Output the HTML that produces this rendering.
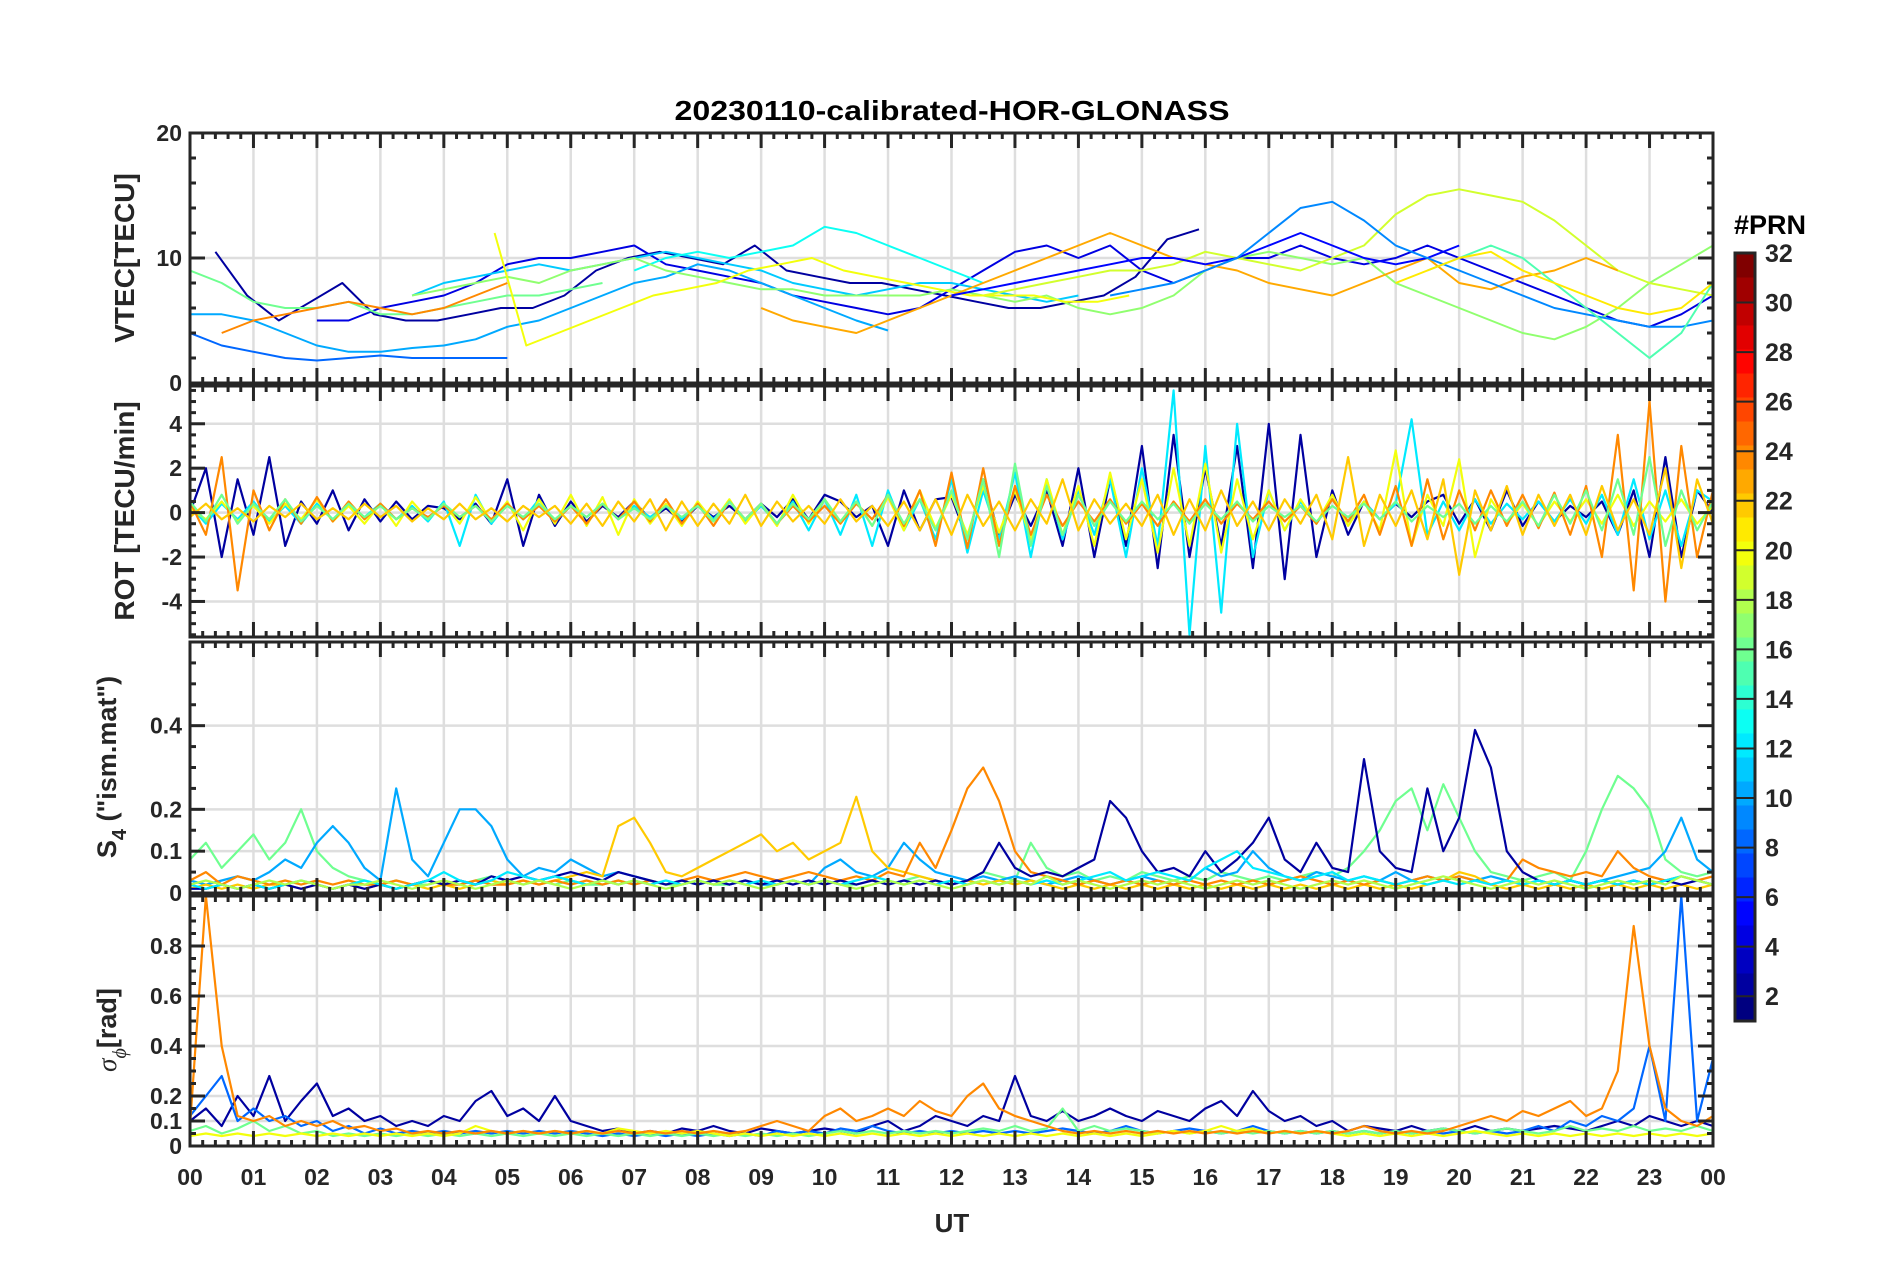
<!DOCTYPE html>
<html><head><meta charset="utf-8"><style>
html,body{margin:0;padding:0;background:#fff}
svg{display:block;font-family:"Liberation Sans",sans-serif}
</style></head><body>
<svg id="chart" width="1902" height="1272" viewBox="0 0 1902 1272" xmlns="http://www.w3.org/2000/svg"></svg>
<script>
// ---------------- data ----------------
const xTickLabels = ["00","01","02","03","04","05","06","07","08","09","10","11","12","13","14","15","16","17","18","19","20","21","22","23","00"];
const vtecTicks = [0,10,20];
const rotTicks = [-4,-2,0,2,4];
const s4Ticks = [0,0.1,0.2,0.4];
const sigTicks = [0,0.1,0.2,0.4,0.6,0.8];
const cbTicks = [2,4,6,8,10,12,14,16,18,20,22,24,26,28,30,32];

// VTEC series: PRN, start hour, step 0.5 h values
const vtecPRN   = [2, 4, 8, 10, 11, 13, 16, 17, 19, 20, 23, 24, 5, 9, 15, 21];
const vtecStart = [0.4, 2.0, 0.0, 0.0, 3.5, 7.0, 0.0, 3.5, 12.5, 4.8, 9.0, 0.5, 12.0, 14.5, 19.5, 19.0];
const vtecVals = [
 [10.5,7,5,6.5,8,5.5,5,5,5.5,6,6,7,9,10,10.5,10,9.5,11,9,8.5,8,8,7.5,7,6.5,6,6,6.5,7,8.5,11.5,12.3],
 [5,5,6,6.5,7,8,9.5,10,10,10.5,11,9.5,9,8.5,8,7,6.5,6,5.5,6,7.5,9,10.5,11,10,11,9,8,9,10,10,11,10,9.5,10,11,10,9,8,7,6,5,4.5,5.5,7,9,11,12,11,10,9.5,9,10],
 [4,3,2.5,2,1.8,2,2.2,2,2,2,2],
 [5.5,5.5,5,4,3,2.5,2.5,2.8,3,3.5,4.5,5,6,7,8,8.5,9.5,9,8,7,6,5,4.2],
 [7,8,8.5,9,9.5,9,9.5,10,10.5,10,9.5,9,8,7.5,7,7.5,8,8,7.5,7,6.5,7],
 [9,10,10.5,10,10.5,11,12.5,12,11,10,9,8],
 [9,8,6.5,6,6,6.5,5.5,5.5,6,6.5,7,7,7.5,8],
 [7,7.5,8,8.5,8,9,9.5,10,9,8.5,8,7.5,7.5,7,7,7,7,7.5,7,6.5,7,6,5.5,6,7,9,10,10.5,10,9.5,10,8,7,6,5,4,3.5,4.5,6,8,9.5,11,12,13,12.5,11,10,9],
 [7,7.5,8,8.5,9,9,9.5,10.5,10,9.5,9,10,11,13.5,15,15.5,15,14.5,13,11,9,8,7.5,7,6.5,6,6.5,7,7,6.5,5.5,5],
 [12,3,4,5,6,7,7.5,8,9,9.5,10,9,8.5,8,7.5,7,7,7,6.5,6.5,7],
 [6,5,4.5,4,5,6,7,8,9,10,11,12,11,10,9.5,9,8,7.5,7,8,9,10,8,7.5,8.5,9,10,9],
 [4,5,5.5,6,6.5,6,5.5,6,7,8],
 [7,7.5,8,8.5,9,9.5,10,10,9.5,10,11,12,11,10,9.5,10,11],
 [7,7.5,8,9,10,12,14,14.5,13,11,10,9,8,7,6,5.5,5,4.5,4.5,5,4.5],
 [9,10,11,10,8,6,4,2,4,8,10,11,10,9.5,9,10,9,8,7,6,5],
 [8,9,10,10.5,9,8,7,6,5.5,6,8,9,10,11,12,13,14,11,9,8,7,6,9]
];

// ROT series: 97 samples (every 15 min)
const rotPRN = [2, 12, 20, 24, 16, 22];
const rotVals = [
 [0,2,-2,1.5,-1,2.5,-1.5,0.5,-0.5,1,-0.8,0.6,-0.4,0.5,-0.3,0.3,0.2,-0.3,0.4,-0.5,1.5,-1.5,0.8,-0.6,0.5,-0.4,0.3,-0.2,0.5,-0.3,0.2,-0.4,0.3,-0.2,0.3,-0.3,0.4,-0.2,0.6,-0.3,0.8,0.5,-0.2,0.3,-1.5,1,-0.8,0.6,0.7,-1.2,1.5,-1,0.8,-0.6,1,-1.5,2,-2,1.5,-1.5,3,-2.5,3.5,-2,2,-1.5,3,-2.5,4,-3,3.5,-2,1,-1,0.5,-0.3,0.4,-0.2,0.5,0.8,-0.5,0.6,-0.8,1,-0.6,0.5,-0.4,0.3,-0.2,0.5,-1,1,-2,2.5,-2,1,0],
 [0.3,-0.5,0.4,-0.3,0.5,-0.4,0.3,-0.5,0.4,-0.3,0.3,-0.2,0.4,-0.3,0.3,-0.4,0.5,-1.5,0.8,-0.5,0.4,-0.3,0.6,-0.4,0.3,-0.2,0.4,-0.3,0.3,-0.2,0.3,-0.3,0.4,-0.3,0.5,-0.4,0.3,-0.5,0.5,-0.8,0.6,-1,0.8,-1.5,1,-0.8,0.6,-1.2,1.5,-1.8,1,-1.2,1.8,-2,1.5,-1.2,1,-1,1.5,-2,2,-1.5,5.5,-5.5,3,-4.5,4,-2,1,-0.8,0.5,-0.5,0.6,-0.4,0.5,-0.3,0.4,4.2,-1,0.5,-0.8,0.6,-0.5,0.4,-0.3,0.5,-0.4,0.6,-0.5,0.8,-1,1.5,-1.2,1,-1.5,1,0.5],
 [0.2,-0.3,0.5,-0.4,0.3,-0.5,0.4,-0.3,0.6,-0.4,0.3,-0.5,0.4,-0.6,0.5,-0.3,0.4,-0.5,0.7,-0.4,0.5,-0.8,0.6,-0.5,0.8,-0.6,0.7,-1,0.6,-0.5,0.4,-0.6,0.5,-0.4,0.6,-0.5,0.4,-0.6,0.8,-0.5,0.6,-0.4,0.5,-0.6,0.7,-0.8,1,-0.7,0.8,-1,1.2,-0.9,1,-1.2,1.5,-1,1.2,-1.5,1.8,-1.2,1.5,-1.8,2,-1.5,2.2,-1.8,1.5,-1.2,1,-0.8,0.6,-0.5,0.8,-0.6,0.5,-0.8,2.8,-1.5,0.8,-0.6,2.4,-2,0.6,-0.5,0.4,-0.6,0.5,-0.4,0.6,-0.5,0.8,-0.6,0.5,-0.4,0.6,-0.5,0.3],
 [0.5,-1,2.5,-3.5,1,-0.8,0.6,-0.5,0.7,-0.4,0.5,-0.3,0.4,-0.3,0.2,-0.2,0.3,-0.2,0.3,-0.3,0.4,-0.3,0.3,-0.4,0.3,-0.5,0.4,-0.3,0.5,-0.4,0.6,-0.5,0.4,-0.6,0.5,-0.3,0.4,-0.5,0.3,-0.4,0.3,-0.5,0.4,-0.3,0.8,-0.6,1,-1.5,1.8,-1.6,2,-1.5,1.2,-1,0.8,-0.6,0.5,-0.4,0.6,-0.5,0.4,-0.6,0.5,-0.4,0.6,-0.5,0.4,-0.3,0.5,-0.4,0.3,-0.5,0.6,-0.4,0.8,-1,1.2,-1.5,1.5,-1.2,1,-0.8,1,-0.6,0.8,-0.7,0.9,-1,1.2,-2,3.5,-3.5,5,-4,3,-2,1],
 [0.5,-0.4,0.8,-0.5,0.4,-0.3,0.6,-0.4,0.3,-0.3,0.4,-0.2,0.3,-0.3,0.2,-0.3,0.4,-0.2,0.3,-0.4,0.3,-0.2,0.4,-0.3,0.3,-0.2,0.4,-0.3,0.2,-0.3,0.3,-0.2,0.3,-0.4,0.5,-0.3,0.4,-0.5,0.4,-0.3,0.6,-0.4,0.5,-0.6,0.8,-0.5,0.6,-0.8,1,-1.2,1.5,-2,2.2,-1.5,1.2,-1,0.8,-0.6,0.5,-0.4,0.5,-0.3,0.4,-0.5,0.4,-0.3,0.5,-0.4,0.3,-0.2,0.3,-0.4,0.3,-0.2,0.4,-0.3,0.5,-0.4,0.3,-0.2,0.4,-0.5,0.3,-0.4,0.5,-0.6,0.8,-0.5,1,-0.8,1.5,-1,2.5,-1.5,1,-0.8,0.5],
 [-0.2,0.4,-0.3,0.2,-0.4,0.3,-0.2,0.4,-0.3,0.2,-0.3,0.4,-0.2,0.3,-0.4,0.2,-0.3,0.4,-0.3,0.2,-0.4,0.3,-0.2,0.3,-0.5,0.4,-0.6,0.5,-0.4,0.6,-0.8,0.5,-0.6,0.4,-0.5,0.8,-0.6,0.5,-0.4,0.3,-0.5,0.6,-0.4,0.3,-0.6,0.5,-0.8,0.6,-1,0.8,-0.6,0.5,-0.8,0.6,-0.5,1.5,-0.8,0.6,-0.5,0.4,-0.6,0.8,-1,0.6,-0.8,1,-0.6,0.5,-0.8,0.6,-0.5,0.8,-1.2,2.5,-1.5,0.8,-0.6,1,-1.2,1.5,-2.8,1,-0.8,1.2,-1,0.8,-0.6,0.8,-1,1.2,-0.8,0.6,-1,2,-2.5,1.5,-0.5]
];

// S4 series: 97 samples (every 15 min)
const s4PRN = [16, 10, 22, 24, 2, 12, 18];
const s4Vals = [
 [0.08,0.12,0.06,0.1,0.14,0.08,0.12,0.2,0.1,0.06,0.04,0.03,0.02,0.03,0.02,0.02,0.03,0.02,0.03,0.04,0.03,0.02,0.03,0.02,0.03,0.02,0.02,0.03,0.02,0.03,0.02,0.02,0.03,0.02,0.02,0.03,0.02,0.02,0.03,0.02,0.03,0.02,0.02,0.03,0.02,0.03,0.04,0.03,0.02,0.03,0.05,0.04,0.03,0.12,0.06,0.04,0.05,0.03,0.04,0.03,0.05,0.04,0.03,0.04,0.03,0.05,0.04,0.03,0.04,0.03,0.04,0.05,0.04,0.06,0.1,0.15,0.22,0.25,0.15,0.26,0.18,0.1,0.05,0.04,0.03,0.04,0.05,0.03,0.1,0.2,0.28,0.25,0.2,0.08,0.05,0.04,0.05],
 [0.03,0.02,0.03,0.04,0.03,0.05,0.08,0.06,0.12,0.16,0.12,0.06,0.03,0.25,0.08,0.04,0.12,0.2,0.2,0.16,0.08,0.04,0.06,0.05,0.08,0.06,0.04,0.05,0.04,0.03,0.02,0.03,0.02,0.03,0.02,0.03,0.02,0.02,0.03,0.02,0.06,0.08,0.05,0.04,0.06,0.12,0.08,0.05,0.04,0.03,0.04,0.03,0.04,0.03,0.02,0.03,0.04,0.03,0.02,0.03,0.04,0.03,0.02,0.03,0.06,0.04,0.05,0.1,0.06,0.04,0.03,0.05,0.04,0.03,0.04,0.03,0.05,0.03,0.04,0.03,0.04,0.03,0.04,0.03,0.02,0.03,0.02,0.03,0.02,0.03,0.04,0.05,0.06,0.1,0.18,0.08,0.05],
 [0.01,0.02,0.01,0.02,0.01,0.02,0.02,0.01,0.02,0.01,0.02,0.01,0.02,0.01,0.02,0.01,0.02,0.01,0.02,0.03,0.02,0.03,0.02,0.03,0.04,0.05,0.04,0.16,0.18,0.12,0.05,0.04,0.06,0.08,0.1,0.12,0.14,0.1,0.12,0.08,0.1,0.12,0.23,0.1,0.06,0.05,0.04,0.03,0.02,0.03,0.02,0.03,0.02,0.03,0.02,0.01,0.02,0.01,0.02,0.01,0.02,0.01,0.02,0.01,0.02,0.01,0.02,0.01,0.02,0.01,0.02,0.01,0.02,0.01,0.02,0.01,0.02,0.01,0.02,0.03,0.05,0.04,0.02,0.01,0.02,0.01,0.02,0.01,0.02,0.01,0.02,0.01,0.02,0.01,0.02,0.01,0.02],
 [0.03,0.05,0.02,0.04,0.03,0.02,0.03,0.02,0.03,0.02,0.03,0.02,0.02,0.03,0.02,0.03,0.02,0.02,0.03,0.02,0.02,0.03,0.02,0.03,0.02,0.03,0.02,0.03,0.02,0.03,0.02,0.03,0.04,0.03,0.04,0.05,0.04,0.03,0.04,0.05,0.04,0.03,0.04,0.03,0.05,0.04,0.12,0.06,0.15,0.25,0.3,0.22,0.1,0.05,0.04,0.03,0.02,0.03,0.02,0.03,0.02,0.03,0.02,0.03,0.02,0.03,0.02,0.03,0.02,0.03,0.04,0.03,0.02,0.03,0.02,0.03,0.02,0.03,0.04,0.03,0.04,0.03,0.02,0.03,0.08,0.06,0.05,0.04,0.05,0.04,0.1,0.06,0.04,0.03,0.04,0.03,0.04],
 [0.01,0.01,0.02,0.01,0.02,0.01,0.02,0.01,0.02,0.01,0.02,0.01,0.02,0.01,0.02,0.03,0.02,0.03,0.02,0.04,0.03,0.04,0.03,0.04,0.05,0.04,0.03,0.05,0.04,0.03,0.02,0.03,0.02,0.03,0.02,0.03,0.02,0.03,0.02,0.03,0.02,0.03,0.02,0.03,0.02,0.03,0.02,0.03,0.02,0.03,0.05,0.12,0.06,0.04,0.05,0.04,0.06,0.08,0.22,0.18,0.1,0.05,0.06,0.04,0.1,0.05,0.08,0.12,0.18,0.08,0.05,0.12,0.06,0.05,0.32,0.1,0.06,0.05,0.25,0.1,0.18,0.39,0.3,0.1,0.05,0.03,0.02,0.03,0.02,0.03,0.02,0.03,0.02,0.03,0.02,0.03,0.02],
 [0.02,0.01,0.02,0.01,0.02,0.01,0.02,0.03,0.02,0.01,0.02,0.03,0.02,0.01,0.02,0.03,0.05,0.03,0.02,0.03,0.05,0.04,0.03,0.04,0.03,0.02,0.03,0.02,0.03,0.02,0.03,0.02,0.03,0.02,0.03,0.02,0.03,0.02,0.03,0.02,0.03,0.02,0.03,0.04,0.03,0.02,0.03,0.02,0.03,0.02,0.03,0.02,0.03,0.02,0.03,0.02,0.03,0.04,0.05,0.03,0.04,0.05,0.04,0.03,0.06,0.08,0.1,0.06,0.05,0.04,0.03,0.04,0.05,0.03,0.04,0.03,0.02,0.03,0.02,0.03,0.02,0.03,0.02,0.03,0.02,0.03,0.02,0.03,0.02,0.03,0.02,0.03,0.02,0.03,0.04,0.03,0.02],
 [0.02,0.03,0.02,0.01,0.02,0.03,0.02,0.03,0.02,0.01,0.02,0.02,0.03,0.02,0.01,0.02,0.03,0.02,0.01,0.02,0.03,0.02,0.03,0.02,0.01,0.02,0.03,0.02,0.03,0.02,0.01,0.02,0.03,0.02,0.03,0.02,0.01,0.02,0.03,0.02,0.03,0.02,0.01,0.02,0.03,0.02,0.03,0.02,0.01,0.02,0.03,0.02,0.03,0.02,0.04,0.02,0.03,0.02,0.01,0.02,0.03,0.02,0.03,0.02,0.01,0.02,0.03,0.02,0.03,0.02,0.01,0.02,0.03,0.02,0.03,0.02,0.01,0.02,0.03,0.04,0.03,0.02,0.01,0.02,0.03,0.02,0.03,0.02,0.01,0.02,0.03,0.02,0.03,0.02,0.04,0.03,0.02]
];

// sigma_phi series: 97 samples (every 15 min)
const sigPRN = [2, 8, 16, 20, 24];
const sigVals = [
 [0.1,0.15,0.08,0.2,0.12,0.28,0.1,0.18,0.25,0.12,0.15,0.1,0.12,0.08,0.1,0.08,0.12,0.1,0.18,0.22,0.12,0.15,0.1,0.2,0.1,0.08,0.06,0.07,0.05,0.06,0.05,0.07,0.06,0.08,0.06,0.05,0.07,0.06,0.05,0.06,0.07,0.06,0.05,0.08,0.1,0.06,0.08,0.12,0.1,0.08,0.12,0.1,0.28,0.12,0.1,0.14,0.1,0.12,0.15,0.12,0.1,0.14,0.12,0.1,0.15,0.18,0.12,0.22,0.14,0.1,0.12,0.08,0.1,0.06,0.08,0.07,0.06,0.08,0.06,0.07,0.06,0.08,0.06,0.07,0.06,0.07,0.08,0.07,0.06,0.08,0.1,0.08,0.12,0.1,0.08,0.1,0.08],
 [0.12,0.2,0.28,0.1,0.15,0.1,0.12,0.08,0.1,0.06,0.08,0.05,0.07,0.05,0.06,0.05,0.06,0.05,0.06,0.05,0.06,0.05,0.06,0.05,0.06,0.05,0.04,0.05,0.04,0.05,0.04,0.05,0.04,0.05,0.04,0.05,0.04,0.06,0.05,0.06,0.05,0.07,0.06,0.08,0.06,0.05,0.06,0.05,0.06,0.05,0.06,0.05,0.06,0.05,0.06,0.07,0.06,0.05,0.06,0.08,0.06,0.05,0.06,0.07,0.06,0.05,0.06,0.08,0.06,0.05,0.06,0.05,0.06,0.05,0.06,0.05,0.06,0.05,0.06,0.05,0.06,0.05,0.06,0.05,0.06,0.08,0.06,0.1,0.08,0.12,0.1,0.15,0.4,0.1,1.0,0.1,0.35],
 [0.06,0.08,0.05,0.07,0.1,0.06,0.08,0.05,0.06,0.04,0.05,0.04,0.05,0.04,0.05,0.04,0.05,0.04,0.05,0.04,0.05,0.04,0.05,0.04,0.05,0.04,0.05,0.04,0.05,0.04,0.05,0.04,0.05,0.04,0.05,0.04,0.05,0.04,0.05,0.04,0.05,0.06,0.05,0.06,0.05,0.06,0.05,0.06,0.05,0.06,0.07,0.06,0.08,0.06,0.07,0.15,0.06,0.08,0.06,0.07,0.06,0.05,0.06,0.05,0.06,0.05,0.06,0.05,0.06,0.05,0.06,0.05,0.06,0.05,0.06,0.05,0.06,0.05,0.06,0.07,0.06,0.05,0.06,0.07,0.06,0.05,0.06,0.08,0.06,0.07,0.06,0.08,0.06,0.07,0.06,0.08,0.06],
 [0.04,0.05,0.04,0.05,0.04,0.05,0.04,0.05,0.04,0.05,0.04,0.05,0.04,0.05,0.04,0.05,0.04,0.05,0.08,0.06,0.05,0.06,0.05,0.06,0.05,0.06,0.05,0.07,0.06,0.05,0.06,0.05,0.06,0.05,0.04,0.05,0.04,0.05,0.04,0.05,0.04,0.05,0.04,0.05,0.04,0.05,0.04,0.05,0.04,0.05,0.04,0.05,0.04,0.05,0.04,0.05,0.04,0.05,0.04,0.05,0.04,0.05,0.06,0.05,0.06,0.08,0.06,0.07,0.05,0.06,0.05,0.06,0.05,0.04,0.05,0.04,0.05,0.04,0.05,0.04,0.05,0.06,0.05,0.04,0.05,0.04,0.05,0.04,0.05,0.04,0.05,0.04,0.05,0.04,0.05,0.04,0.05],
 [0.08,1.0,0.4,0.12,0.1,0.12,0.08,0.1,0.08,0.1,0.07,0.08,0.06,0.07,0.05,0.06,0.05,0.06,0.05,0.06,0.05,0.06,0.05,0.06,0.05,0.06,0.05,0.06,0.05,0.06,0.05,0.06,0.05,0.06,0.05,0.06,0.08,0.1,0.08,0.06,0.12,0.15,0.1,0.12,0.15,0.12,0.18,0.14,0.12,0.2,0.25,0.15,0.12,0.1,0.08,0.06,0.05,0.06,0.05,0.06,0.05,0.06,0.05,0.06,0.05,0.06,0.05,0.06,0.05,0.06,0.05,0.06,0.05,0.06,0.08,0.06,0.05,0.06,0.05,0.06,0.08,0.1,0.12,0.1,0.14,0.12,0.15,0.18,0.12,0.15,0.3,0.88,0.4,0.15,0.1,0.08,0.12]
];

// ---------------- layout ----------------
const NS="http://www.w3.org/2000/svg";
const svg=document.getElementById('chart');
const X0=190, X1=1713;
const panels=[
 {key:'vtec',top:133,bot:383,min:0,max:20,ticks:vtecTicks,minor:2},
 {key:'rot',top:386,bot:637,min:-5.6,max:5.7,ticks:rotTicks,minor:0.5},
 {key:'s4',top:642,bot:893,min:0,max:0.6,ticks:s4Ticks,minor:0.05},
 {key:'sig',top:896,bot:1146,min:0,max:1,ticks:sigTicks,minor:0.05}
];
function xs(h){return X0+(X1-X0)*h/24;}
function ys(p,v){return p.bot-(p.bot-p.top)*(v-p.min)/(p.max-p.min);}
function jet(prn){
 const t=(prn-1)/31;
 const r=Math.max(0,Math.min(1,1.5-Math.abs(4*t-3)));
 const g=Math.max(0,Math.min(1,1.5-Math.abs(4*t-2)));
 const b=Math.max(0,Math.min(1,1.5-Math.abs(4*t-1)));
 return `rgb(${Math.round(r*255)},${Math.round(g*255)},${Math.round(b*255)})`;
}
function mk(tag,attrs,parent){const e=document.createElementNS(NS,tag);for(const k in attrs)e.setAttribute(k,attrs[k]);(parent||svg).appendChild(e);return e;}

const defs=mk('defs',{});
panels.forEach((p,i)=>{
 const cp=mk('clipPath',{id:'clip'+i},defs);
 mk('rect',{x:X0,y:p.top,width:X1-X0,height:p.bot-p.top},cp);
});

panels.forEach((p,i)=>{
 const g=mk('g',{});
 
 
 for(let h=1;h<24;h++){
  const l=mk('line',{x1:xs(h),x2:xs(h),y1:p.top,y2:p.bot,stroke:'#dedede','stroke-width':2.5},g);
  
  
 }
 p.ticks.forEach(v=>{
  const l=mk('line',{x1:X0,x2:X1,y1:ys(p,v),y2:ys(p,v),stroke:'#dedede','stroke-width':2.5},g);
  
  
 });
});

function drawSeries(pi,prns,valsList,startList,step,name,sw){
 const p=panels[pi];
 const g=mk('g',{'clip-path':`url(#clip${pi})`});
 
 
 valsList.forEach((vals,k)=>{
  const st=startList?startList[k]:0;
  const dt=step?step:24/(vals.length-1);
  const pts=vals.map((v,j)=>xs(st+j*dt).toFixed(1)+','+ys(p,v).toFixed(1)).join(' ');
  const pl=mk('polyline',{points:pts,fill:'none',stroke:jet(prns[k]),'stroke-width':sw,'stroke-linejoin':'round'},g);
  
  
 });
}
drawSeries(0,vtecPRN,vtecVals,vtecStart,0.5,'vtec',2);
drawSeries(1,rotPRN,rotVals,null,null,'rot',2.2);
drawSeries(2,s4PRN,s4Vals,null,null,'s4',2.2);
drawSeries(3,sigPRN,sigVals,null,null,'sigma',2.2);

const INK='#262626';
panels.forEach((p,i)=>{
 const g=mk('g',{});
 
 
 for(let m=0;m<=120;m++){
  const h=m/5, x=xs(h), major=(m%5===0), L=major?15:6;
  mk('line',{x1:x,x2:x,y1:p.top,y2:p.top+L,stroke:INK,'stroke-width':3},g);
  mk('line',{x1:x,x2:x,y1:p.bot,y2:p.bot-L,stroke:INK,'stroke-width':3},g);
 }
 for(let v=p.min;v<=p.max+1e-9;v+=p.minor){
  const vv=Math.round(v/p.minor)*p.minor;
  if(vv<p.min-1e-9) continue;
  const y=ys(p,vv);
  const major=p.ticks.some(t=>Math.abs(t-vv)<1e-6);
  const L=major?15:6;
  mk('line',{x1:X0,x2:X0+L,y1:y,y2:y,stroke:INK,'stroke-width':3},g);
  mk('line',{x1:X1,x2:X1-L,y1:y,y2:y,stroke:INK,'stroke-width':3},g);
 }
 mk('rect',{x:X0,y:p.top,width:X1-X0,height:p.bot-p.top,fill:'none',stroke:INK,'stroke-width':3},g);
 p.ticks.forEach(v=>{
  const t=mk('text',{x:X0-8,y:ys(p,v)+8,'text-anchor':'end','font-size':23,'font-weight':'bold',fill:INK},g);
  t.textContent=String(v);
  
  
 });
});

xTickLabels.forEach((s,i)=>{
 const t=mk('text',{x:xs(i),y:1185,'text-anchor':'middle','font-size':23,'font-weight':'bold',fill:INK});
 t.textContent=s;
 
 
});
</script>
<svg style="position:absolute;left:0;top:0" width="1902" height="1272">
 <text x="952" y="120" text-anchor="middle" font-family="Liberation Sans, sans-serif" font-size="28" font-weight="bold" fill="#000" textLength="555" lengthAdjust="spacingAndGlyphs">20230110-calibrated-HOR-GLONASS</text>
 <text x="952" y="1232" text-anchor="middle" font-family="Liberation Sans, sans-serif" font-size="26" font-weight="bold" fill="#262626">UT</text>
 <text transform="translate(134,258) rotate(-90)" text-anchor="middle" font-family="Liberation Sans, sans-serif" font-size="28" font-weight="bold" fill="#262626">VTEC[TECU]</text>
 <text transform="translate(134,511) rotate(-90)" text-anchor="middle" font-family="Liberation Sans, sans-serif" font-size="28" font-weight="bold" fill="#262626">ROT [TECU/min]</text>
 <text transform="translate(116,767) rotate(-90)" text-anchor="middle" font-family="Liberation Sans, sans-serif" font-size="27" font-weight="bold" fill="#262626">S<tspan font-size="20" dy="10">4</tspan><tspan dy="-10"> ("ism.mat")</tspan></text>
 <text transform="translate(116,1030) rotate(-90)" text-anchor="middle" font-family="Liberation Serif, serif" font-size="27" fill="#262626"><tspan font-style="italic">σ</tspan><tspan font-style="italic" font-size="20" dy="10">ϕ</tspan><tspan dy="-10" font-family="Liberation Sans, sans-serif" font-weight="bold">[rad]</tspan></text>
 <g id="cbar"></g>
 <text x="1770" y="234" text-anchor="middle" font-family="Liberation Sans, sans-serif" font-size="27" font-weight="bold" fill="#000">#PRN</text>
</svg>
<script>
(function(){
 const cb=document.getElementById('cbar');
 const NS2="http://www.w3.org/2000/svg";
 const top=253,bot=1021,L=1735,W=20;
 function jet2(prn){const t=(prn-1)/31;const r=Math.max(0,Math.min(1,1.5-Math.abs(4*t-3)));const g=Math.max(0,Math.min(1,1.5-Math.abs(4*t-2)));const b=Math.max(0,Math.min(1,1.5-Math.abs(4*t-1)));return `rgb(${Math.round(r*255)},${Math.round(g*255)},${Math.round(b*255)})`;}
 const h=(bot-top)/32;
 for(let k=0;k<32;k++){
  const r=document.createElementNS(NS2,'rect');
  r.setAttribute('x',L);r.setAttribute('y',bot-(k+1)*h);r.setAttribute('width',W);r.setAttribute('height',h+0.5);r.setAttribute('fill',jet2(k+1));
  
  
  cb.appendChild(r);
 }
 cbTicks.forEach(v=>{
  const y=bot-(bot-top)*(v-1)/31;
  const ln=document.createElementNS(NS2,'line');
  ln.setAttribute('x1',L);ln.setAttribute('x2',L+W);ln.setAttribute('y1',y);ln.setAttribute('y2',y);ln.setAttribute('stroke','#262626');ln.setAttribute('stroke-width',2);
  cb.appendChild(ln);
  const t=document.createElementNS(NS2,'text');
  t.setAttribute('x',L+W+10);t.setAttribute('y',y+9);t.setAttribute('font-family','Liberation Sans, sans-serif');t.setAttribute('font-size',25);t.setAttribute('font-weight','bold');t.setAttribute('fill','#262626');
  t.textContent=String(v);
  
  
  cb.appendChild(t);
 });
 const bd=document.createElementNS(NS2,'rect');
 bd.setAttribute('x',L);bd.setAttribute('y',top);bd.setAttribute('width',W);bd.setAttribute('height',bot-top);bd.setAttribute('fill','none');bd.setAttribute('stroke','#262626');bd.setAttribute('stroke-width',3);
 cb.appendChild(bd);
})();
</script>
</body></html>
